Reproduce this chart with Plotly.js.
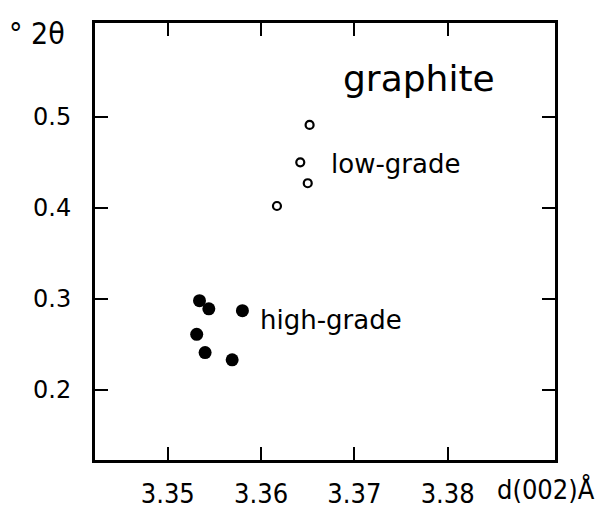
<!DOCTYPE html>
<html>
<head>
<meta charset="utf-8">
<script src="https://cdn.plot.ly/plotly-3.0.1.min.js"></script>
<style>html,body{margin:0;padding:0;background:#fff;}#chart{width:608px;height:508px;}</style>
</head>
<body>
<div id="chart"></div>
<script>
// Data
const highGradeD = [3.3534, 3.3544, 3.3580, 3.3531, 3.3540, 3.3569];
const highGrade2Theta = [0.298, 0.289, 0.287, 0.261, 0.241, 0.233];
const lowGradeD = [3.3652, 3.3642, 3.3650, 3.3617];
const lowGrade2Theta = [0.491, 0.450, 0.427, 0.402];
const xTickVals = [3.35, 3.36, 3.37, 3.38];
const xTickText = ['3.35', '3.36', '3.37', '3.38'];
const yTickVals = [0.2, 0.3, 0.4, 0.5];
const yTickText = ['0.2', '0.3', '0.4', '0.5'];
const seriesLabels = ['high-grade', 'low-grade'];
const chartTitle = 'graphite';
const xLabel = 'd(002)Å';
const yLabel = '° 2θ';

const traces = [
  {
    x: highGradeD, y: highGrade2Theta, type: 'scatter', mode: 'markers',
    name: seriesLabels[0],
    marker: {symbol: 'circle', size: 13, color: '#000'}
  },
  {
    x: lowGradeD, y: lowGrade2Theta, type: 'scatter', mode: 'markers',
    name: seriesLabels[1],
    marker: {symbol: 'circle-open', size: 8, color: '#000', line: {width: 2.2, color: '#000'}}
  }
];

const axisCommon = {
  showline: true, linecolor: '#000', linewidth: 3, mirror: 'ticks',
  ticks: 'inside', ticklen: 13, tickwidth: 2, tickcolor: '#000',
  showgrid: false, zeroline: false, fixedrange: true
};

const layout = {
  width: 608, height: 508,
  margin: {l: 95, r: 53, t: 23, b: 48, pad: 0},
  paper_bgcolor: '#fff', plot_bgcolor: '#fff',
  showlegend: false,
  xaxis: Object.assign({}, axisCommon, {
    range: [3.3422, 3.3915],
    tickmode: 'array', tickvals: xTickVals, ticktext: xTickText,
    tickfont: {family: 'DejaVu Sans Condensed', size: 27, color: '#000'},
    ticklabelstandoff: 8
  }),
  yaxis: Object.assign({}, axisCommon, {
    range: [0.123, 0.603],
    tickmode: 'array', tickvals: yTickVals, ticktext: yTickText,
    tickfont: {family: 'DejaVu Sans', size: 24, color: '#000'},
    ticklabelstandoff: 16
  }),
  annotations: [
    {text: chartTitle, xref: 'paper', yref: 'paper', x: 0.535, y: 0.872,
     xanchor: 'left', yanchor: 'middle', showarrow: false,
     font: {family: 'DejaVu Sans', size: 36, color: '#000'}},
    {text: seriesLabels[1], xref: 'paper', yref: 'paper', x: 0.509, y: 0.677,
     xanchor: 'left', yanchor: 'middle', showarrow: false,
     font: {family: 'DejaVu Sans', size: 26, color: '#000'}},
    {text: seriesLabels[0], xref: 'paper', yref: 'paper', x: 0.354, y: 0.320,
     xanchor: 'left', yanchor: 'middle', showarrow: false,
     font: {family: 'DejaVu Sans', size: 26, color: '#000'}},
    {text: xLabel, xref: 'paper', yref: 'paper', x: 0.870, y: -0.068,
     xanchor: 'left', yanchor: 'middle', showarrow: false,
     font: {family: 'DejaVu Sans Condensed', size: 27, color: '#000'}},
    {text: yLabel, xref: 'paper', yref: 'paper', x: -0.192, y: 0.977,
     xanchor: 'left', yanchor: 'middle', showarrow: false,
     font: {family: 'DejaVu Sans Condensed', size: 30, color: '#000'}}
  ]
};

Plotly.newPlot('chart', traces, layout, {displayModeBar: false, staticPlot: true});
</script>
</body>
</html>
